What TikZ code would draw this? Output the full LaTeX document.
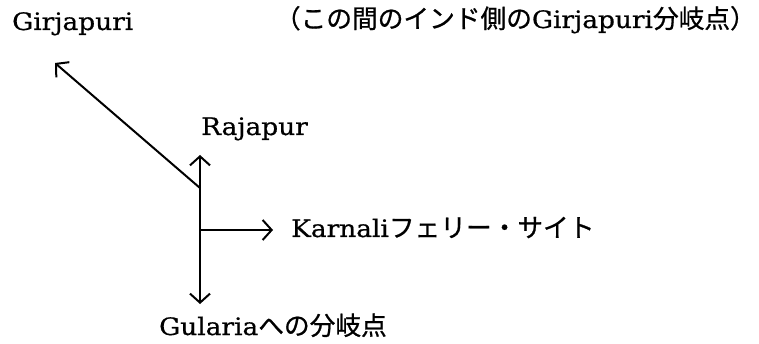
\documentclass[tikz,border=0pt]{standalone}
\usepackage{fontspec}
\setmainfont[FakeStretch=1.1,FakeBold=0.6]{DejaVu Serif}
\newfontfamily\jp[FakeBold=0.8]{Noto Sans CJK JP}
\usetikzlibrary{arrows.meta}
\tikzset{
  lbl/.style={inner sep=0pt, anchor=base west, font=\fontsize{24}{27}\selectfont},
  conn/.style={line width=2pt, -{Straight Barb[length=9pt,width=20pt,line width=2pt]}},
  conn2/.style={line width=2pt, {Straight Barb[length=9pt,width=20pt,line width=2pt]}-{Straight Barb[length=9pt,width=20pt,line width=2pt]}}
}
\newcommand{\J}[1]{{\jp\fontsize{25.7}{27}\selectfont #1}}
\begin{document}
\begin{tikzpicture}[x=1pt,y=-1pt]
\useasboundingbox[fill=white] (0,0) rectangle (759,344);
\node[lbl] (gir) at (12,30) {Girjapuri};
\node[lbl, anchor=base east] (note) at (756,28) {\J{（この間のインド側の}Girjapuri\J{分岐点）}};
\node[lbl] (raj) at (201,135) {Rajapur};
\node[lbl] (kar) at (291,237) {Karnali\J{フェリー・サイト}};
\node[lbl] (gul) at (159,335) {Gularia\J{への分岐点}};
\coordinate (top) at (200,155);
\coordinate (bot) at (200,304);
\coordinate (j1) at (200,188);
\coordinate (j2) at (200,230);
\coordinate (ntip) at (55,63);
\coordinate (etip) at (273,230);
\draw[conn2] (bot) -- (top);
\draw[conn] (j1) -- (ntip);
\draw[conn] (j2) -- (etip);
\end{tikzpicture}
\end{document}
